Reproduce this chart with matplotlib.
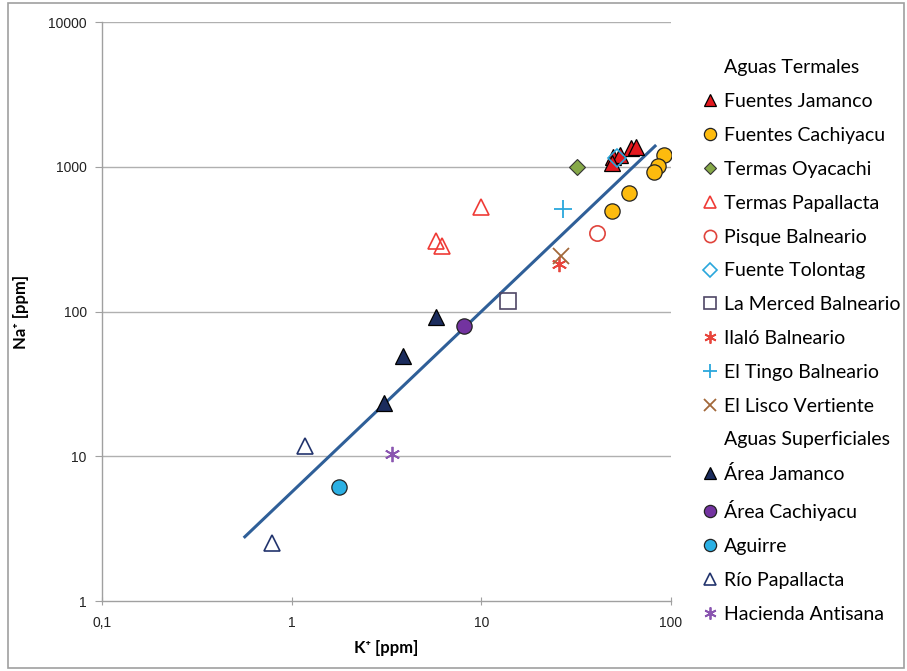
import matplotlib.pyplot as plt
from matplotlib.lines import Line2D
from matplotlib.patches import Rectangle
from matplotlib.ticker import FixedLocator, FixedFormatter, NullLocator
import numpy as np

# K+ / Na+ values [ppm]
fuentes_jamanco_k = [49.5, 53.9, 61.6, 65.4, 48.9]
fuentes_jamanco_na = [1168, 1206, 1348, 1369, 1062]
fuentes_cachiyacu_k = [91.9, 85.4, 81.4, 60.1, 48.9]
fuentes_cachiyacu_na = [1206, 1012, 920, 659, 495]
termas_oyacachi_k = [32.0]
termas_oyacachi_na = [996]
termas_papallacta_k = [5.8, 6.2, 10.0]
termas_papallacta_na = [307, 284, 530]
pisque_k = [40.8]
pisque_na = [349]
tolontag_k = [52.0]
tolontag_na = [1144]
la_merced_k = [13.9]
la_merced_na = [119]
ilalo_k = [25.7]
ilalo_na = [212]
el_tingo_k = [26.8]
el_tingo_na = [510]
el_lisco_k = [26.3]
el_lisco_na = [240]

area_jamanco_k = [5.8, 3.84, 3.05]
area_jamanco_na = [92, 49.5, 23.5]
area_cachiyacu_k = [8.1]
area_cachiyacu_na = [79]
aguirre_k = [1.77]
aguirre_na = [6.1]
rio_papallacta_k = [1.18, 0.79]
rio_papallacta_na = [11.8, 2.5]
antisana_k = [3.4]
antisana_na = [10.3]

# power trend line Na = a * K^b
trend_a = 5.65
trend_b = 1.248
trend_k_range = [0.566, 82.4]

fig = plt.figure(figsize=(9.07, 6.71), dpi=100)
fig.patches.append(Rectangle((0.009, 0.004), 0.988, 0.992, transform=fig.transFigure,
                             fill=False, edgecolor='#a0a0a0', linewidth=1.2))

ax = fig.add_axes([0.1125, 0.1043, 0.6273, 0.8629])
ax.set_xscale('log')
ax.set_yscale('log')
ax.set_xlim(0.1, 100)
ax.set_ylim(1, 10000)

# gridlines
for v in [10, 100, 1000, 10000]:
    ax.axhline(v, color='#b0b0b0', linewidth=1.0, zorder=0)

for s in ['top', 'right']:
    ax.spines[s].set_visible(False)
for s in ['left', 'bottom']:
    ax.spines[s].set_color('#a0a0a0')
    ax.spines[s].set_linewidth(1.0)

ax.xaxis.set_major_locator(FixedLocator([0.1, 1, 10, 100]))
ax.xaxis.set_major_formatter(FixedFormatter(['0,1', '1', '10', '100']))
ax.yaxis.set_major_locator(FixedLocator([1, 10, 100, 1000, 10000]))
ax.yaxis.set_major_formatter(FixedFormatter(['1', '10', '100', '1000', '10000']))
ax.xaxis.set_minor_locator(NullLocator())
ax.yaxis.set_minor_locator(NullLocator())
ax.tick_params(axis='x', direction='inout', length=6, color='#a0a0a0', labelsize=10, pad=8)
ax.tick_params(axis='y', direction='out', length=5, color='#a0a0a0', labelsize=10, pad=6)
for lbl in ax.get_xticklabels() + ax.get_yticklabels():
    lbl.set_family('Liberation Sans')
    lbl.set_color('#222222')

ax.set_xlabel('K⁺ [ppm]', fontsize=12, fontweight='bold', family=['Lato', 'DejaVu Sans'], labelpad=7)
ax.set_ylabel('Na⁺ [ppm]', fontsize=12, fontweight='bold', family=['Lato', 'DejaVu Sans'], labelpad=14)

kk = np.array(trend_k_range)
ax.plot(kk, trend_a * kk ** trend_b, color='#2f5f98', linewidth=2.2, zorder=2)

ms = 11
series = [
    (fuentes_jamanco_k, fuentes_jamanco_na, dict(marker='^', ms=ms, mfc='#e3191f', mec='#000000', mew=0.9)),
    (fuentes_cachiyacu_k, fuentes_cachiyacu_na, dict(marker='o', ms=ms, mfc='#fdbb0e', mec='#222222', mew=0.9)),
    (termas_oyacachi_k, termas_oyacachi_na, dict(marker='D', ms=8, mfc='#86a948', mec='#333333', mew=0.8)),
    (termas_papallacta_k, termas_papallacta_na, dict(marker='^', ms=ms, mfc='none', mec='#ef3b36', mew=1.2)),
    (pisque_k, pisque_na, dict(marker='o', ms=ms, mfc='none', mec='#e0443c', mew=1.2)),
    (tolontag_k, tolontag_na, dict(marker='D', ms=9, mfc='none', mec='#2aa7dc', mew=1.2)),
    (la_merced_k, la_merced_na, dict(marker='s', ms=ms, mfc='none', mec='#4f4766', mew=1.2)),
    (ilalo_k, ilalo_na, dict(marker=(6, 2, 0), ms=ms, mfc='none', mec='#e8453c', mew=1.3)),
    (el_tingo_k, el_tingo_na, dict(marker='+', ms=ms + 2, mfc='none', mec='#2aa7dc', mew=1.3)),
    (el_lisco_k, el_lisco_na, dict(marker='x', ms=ms, mfc='none', mec='#a2683a', mew=1.3)),
    (area_jamanco_k, area_jamanco_na, dict(marker='^', ms=ms, mfc='#1b2c5d', mec='#000000', mew=0.9)),
    (area_cachiyacu_k, area_cachiyacu_na, dict(marker='o', ms=ms, mfc='#7333a0', mec='#222222', mew=0.9)),
    (aguirre_k, aguirre_na, dict(marker='o', ms=ms, mfc='#2bb0e4', mec='#222222', mew=0.9)),
    (rio_papallacta_k, rio_papallacta_na, dict(marker='^', ms=ms, mfc='none', mec='#22346d', mew=1.2)),
    (antisana_k, antisana_na, dict(marker=(6, 2, 0), ms=ms, mfc='none', mec='#8a55b0', mew=1.3)),
]
labels = ['Fuentes Jamanco', 'Fuentes Cachiyacu', 'Termas Oyacachi', 'Termas Papallacta',
          'Pisque Balneario', 'Fuente Tolontag', 'La Merced Balneario', 'Ilaló Balneario',
          'El Tingo Balneario', 'El Lisco Vertiente', 'Área Jamanco', 'Área Cachiyacu',
          'Aguirre', 'Río Papallacta', 'Hacienda Antisana']

handles = []
for (xs, ys, st) in series:
    h, = ax.plot(xs, ys, linestyle='none', zorder=3, **st)
    handles.append(h)

blank = Line2D([], [], linestyle='none', marker='none')
leg_handles = [blank] + handles[:10] + [blank] + handles[10:]
leg_labels = ['Aguas Termales'] + labels[:10] + ['Aguas Superficiales'] + labels[10:]

leg = fig.legend(leg_handles, leg_labels, loc='upper left', bbox_to_anchor=(0.765, 0.923),
                 frameon=False, prop={'family': 'Lato', 'size': 14}, handlelength=0.85,
                 handletextpad=0.3, labelspacing=0.865, borderaxespad=0, markerscale=0.8)

fig.savefig('out.png', dpi=100)
